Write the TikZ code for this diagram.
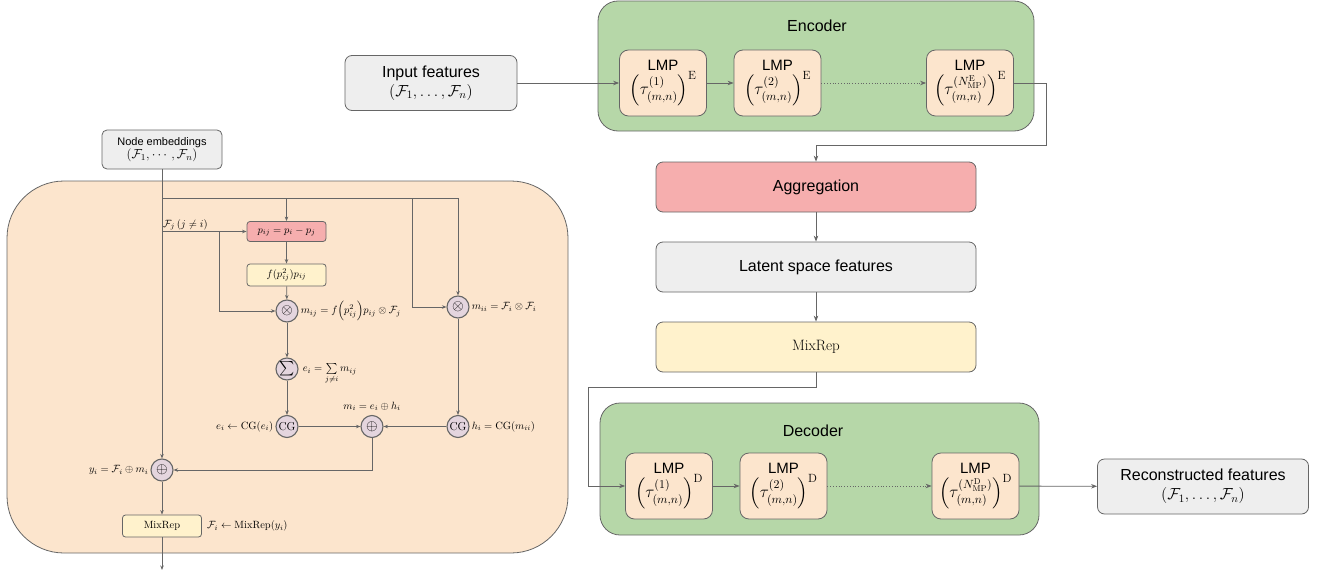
\RequirePackage{fix-cm}
\documentclass[tikz,border=0pt]{standalone}
\usepackage{amsmath}
\usepackage{fontspec}
\setsansfont{Liberation Sans}
\usetikzlibrary{positioning,arrows.meta,calc}
\definecolor{linegrey}{HTML}{666666}
\definecolor{peach}{HTML}{FCE5CD}
\definecolor{leaf}{HTML}{B6D7A8}
\definecolor{rose}{HTML}{F6AEAE}
\definecolor{cream}{HTML}{FFF2CC}
\definecolor{boxgrey}{HTML}{EEEEEE}
\definecolor{opfill}{HTML}{E4D5DE}
\newcommand{\lmpmath}[1]{\fontsize{17}{18}\selectfont$#1$}
\begin{document}
\begin{tikzpicture}[x=1pt,y=-1pt,
  line/.style={draw=linegrey, line width=0.8pt},
  flow/.style={line, -{Stealth[length=6pt,width=4.5pt]}},
  smallflow/.style={line, -{Stealth[length=4.5pt,width=3.5pt]}},
  box/.style={draw=linegrey, line width=0.8pt, rounded corners=7pt, align=center, inner sep=0pt},
  bigbox/.style={box, minimum width=320pt, minimum height=50pt, font=\fontsize{16}{19}\selectfont\sffamily},
  lmpbox/.style={box, fill=peach, rounded corners=9pt, minimum width=87pt, minimum height=66pt, font=\fontsize{15}{16}\selectfont\sffamily},
  smallbox/.style={box, rounded corners=3pt, minimum width=79pt, minimum height=21pt, font=\fontsize{10.5}{12}\selectfont},
  opnode/.style={circle, draw=linegrey, line width=1.1pt, fill=opfill, minimum size=22pt, inner sep=0pt, font=\fontsize{15}{16}\selectfont},
  note/.style={inner sep=1pt, font=\fontsize{10.5}{12}\selectfont},
  group/.style={draw=linegrey, line width=0.8pt, rounded corners=20pt, inner sep=0pt},
  title/.style={font=\fontsize{16}{19}\selectfont\sffamily}
]
  \useasboundingbox (0,0) rectangle (1322,578);
  % Hintergrund
  \node[group, fill=peach, rounded corners=57pt, minimum width=561pt, minimum height=372pt] (cell) at (287.5,367) {};
  \node[group, fill=leaf, minimum width=436pt, minimum height=130pt] (enc) at (816,66) {};
  \node[group, fill=leaf, minimum width=439pt, minimum height=132pt] (dec) at (819.5,469) {};
  \node[title] (enctitle) at (817,26) {Encoder};
  \node[title] (dectitle) at (813,431) {Decoder};

  % Encoder
  \node[bigbox, fill=boxgrey, minimum width=172pt, minimum height=55pt] (inp) at (431,83) {Input features\\$(\mathcal{F}_1,\ldots,\mathcal{F}_n)$};
  \node[lmpbox] (enc1) at (663,83) {LMP\\\lmpmath{\Bigl(\tau^{(1)}_{(m,n)}\Bigr)^{\mathrm{E}}}};
  \node[lmpbox] (enc2) at (777.5,83) {LMP\\\lmpmath{\Bigl(\tau^{(2)}_{(m,n)}\Bigr)^{\mathrm{E}}}};
  \node[lmpbox] (enc3) at (970,83) {LMP\\\lmpmath{\Bigl(\tau^{(N^{\mathrm{E}}_{\mathrm{MP}})}_{(m,n)}\Bigr)^{\mathrm{E}}}};

  % Mitte
  \node[bigbox, fill=rose] (agg) at (816,187) {Aggregation};
  \node[bigbox, fill=boxgrey] (lat) at (816,267) {Latent space features};
  \node[bigbox, fill=cream, font=\fontsize{15}{18}\selectfont] (mix) at (816,347) {MixRep};

  % Decoder
  \node[lmpbox] (dec1) at (669,486) {LMP\\\lmpmath{\Bigl(\tau^{(1)}_{(m,n)}\Bigr)^{\mathrm{D}}}};
  \node[lmpbox] (dec2) at (783.5,486) {LMP\\\lmpmath{\Bigl(\tau^{(2)}_{(m,n)}\Bigr)^{\mathrm{D}}}};
  \node[lmpbox] (dec3) at (975.5,486) {LMP\\\lmpmath{\Bigl(\tau^{(N^{\mathrm{D}}_{\mathrm{MP}})}_{(m,n)}\Bigr)^{\mathrm{D}}}};
  \node[bigbox, fill=boxgrey, minimum width=211pt, minimum height=55pt] (rec) at (1203,486.5) {Reconstructed features\\$(\mathcal{F}_1,\ldots,\mathcal{F}_n)$};

  % Verbindungen rechts
  \coordinate (encturn) at (1046,145);
  \coordinate (mixturn) at (588,387);
  \draw[flow] (inp) -- (enc1);
  \draw[flow] (enc1) -- (enc2);
  \draw[flow, dotted] (enc2) -- (enc3);
  \draw[flow] (enc3.east) -| (encturn) -| (agg.north);
  \draw[flow] (agg) -- (lat);
  \draw[flow] (lat) -- (mix);
  \draw[flow] (mix.south) |- (mixturn) |- (dec1.west);
  \draw[flow] (dec1) -- (dec2);
  \draw[flow, dotted] (dec2) -- (dec3);
  \draw[flow] (dec3) -- (rec);

  % Zelle links
  \node[box, fill=boxgrey, rounded corners=5pt, minimum width=120pt, minimum height=39pt, font=\fontsize{11}{13}\selectfont\sffamily] (emb) at (162,149.5) {Node embeddings\\\fontsize{13}{14}\selectfont$(\mathcal{F}_1,\cdots,\mathcal{F}_n)$};
  \node[smallbox, fill=rose, minimum height=20pt] (pij) at (286.5,231.5) {$p_{ij}=p_i-p_j$};
  \node[smallbox, fill=cream, minimum height=22pt] (fbox) at (286.5,275) {$f(p_{ij}^2)p_{ij}$};
  \node[opnode] (mij) at (287,311) {$\otimes$};
  \node[opnode] (sig) at (287,369) {$\sum$};
  \node[opnode, font=\fontsize{11.5}{12}\selectfont] (cgl) at (287,426.5) {$\mathrm{CG}$};
  \node[opnode] (mi) at (372,426.5) {$\oplus$};
  \node[opnode, font=\fontsize{11.5}{12}\selectfont] (cgr) at (458,426.5) {$\mathrm{CG}$};
  \node[opnode] (mii) at (458,307) {$\otimes$};
  \node[opnode] (yi) at (162,470) {$\oplus$};
  \node[smallbox, fill=cream, minimum height=22pt] (mrep) at (162,526) {MixRep};
  \coordinate (out) at (162,570);

  % Beschriftungen
  \node[note, right=1pt of mij] (mijlab) {$m_{ij}=f\Bigl(p_{ij}^2\Bigr)p_{ij}\otimes\mathcal{F}_j$};
  \node[note, anchor=west] (siglab) at ($(sig.east)+(3,5)$) {$e_i=\sum\limits_{j\neq i} m_{ij}$};
  \node[note, above=3pt of mi] (milab) {$m_i=e_i\oplus h_i$};
  \node[note, left=1pt of cgl] (cgllab) {$e_i\leftarrow\mathrm{CG}(e_i)$};
  \node[note, right=1pt of cgr] (cgrlab) {$h_i=\mathrm{CG}(m_{ii})$};
  \node[note, right=1pt of mii] (miilab) {$m_{ii}=\mathcal{F}_i\otimes\mathcal{F}_i$};
  \node[note, left=1pt of yi] (yilab) {$y_i=\mathcal{F}_i\oplus m_i$};
  \node[note, right=4pt of mrep] (mreplab) {$\mathcal{F}_i\leftarrow\mathrm{MixRep}(y_i)$};

  % Verbindungen links
  \coordinate (busL) at (162,198);
  \coordinate (busM) at (412,198);
  \coordinate (busR) at (458,198);
  \coordinate (fjL) at (162,231.5);
  \coordinate (fjM) at (219,231.5);
  \node[note, anchor=south west] (fjlab) at (fjL) {$\mathcal{F}_j\,(j\neq i)$};
  \draw[smallflow] (emb.south) -- (yi.north);
  \draw[line] (busL) -- (busR);
  \draw[smallflow] (busR) -- (mii.north);
  \draw[smallflow] (pij.north |- busL) -- (pij.north);
  \draw[smallflow] (busM) |- (mii.west);
  \draw[smallflow] (fjL) -- (pij.west);
  \draw[smallflow] (fjM) |- (mij.west);
  \draw[smallflow] (pij) -- (fbox);
  \draw[smallflow] (fbox) -- (mij);
  \draw[smallflow] (mij) -- (sig);
  \draw[smallflow] (sig) -- (cgl);
  \draw[smallflow] (mii) -- (cgr);
  \draw[smallflow] (cgl) -- (mi);
  \draw[smallflow] (cgr) -- (mi);
  \draw[smallflow] (mi.south) |- (yi.east);
  \draw[smallflow] (yi) -- (mrep);
  \draw[smallflow] (mrep) -- (out);
\end{tikzpicture}
\end{document}
